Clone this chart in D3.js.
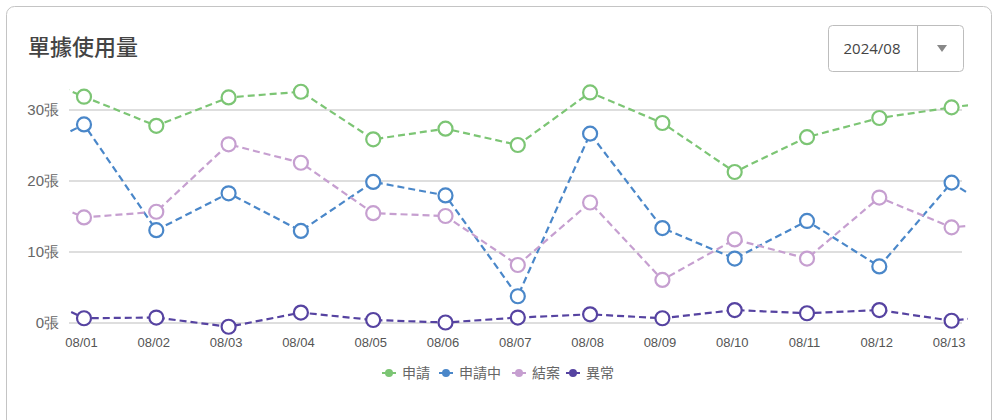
<!DOCTYPE html>
<html>
<head>
<meta charset="utf-8">
<script src="https://cdn.jsdelivr.net/npm/d3@7"></script>
<style>
  body { margin: 0; background: #fff; font-family: "Noto Sans CJK TC", "Noto Sans", sans-serif; }
</style>
</head>
<body>
<script>
// dates (first and last are off-screen neighbours, only used so the dashed lines run off the edges)
var dates = ["07/31", "08/01", "08/02", "08/03", "08/04", "08/05", "08/06", "08/07", "08/08", "08/09", "08/10", "08/11", "08/12", "08/13", "08/14"];
var shownDates = dates.slice(1, 14);

var appliedVals  = [36.0, 31.8, 27.7, 31.7, 32.5, 25.8, 27.3, 25.0, 32.4, 28.1, 21.2, 26.1, 28.8, 30.3, 31.6];
var pendingVals  = [22.7, 27.9, 13.0, 18.2, 12.9, 19.8, 17.9, 3.7, 26.6, 13.3, 9.0, 14.3, 7.9, 19.7, 13.1];
var closedVals   = [19.1, 14.8, 15.6, 25.1, 22.5, 15.4, 15.0, 8.1, 16.9, 6.0, 11.7, 9.0, 17.6, 13.4, 14.3];
var abnormalVals = [5.5, 0.6, 0.7, -0.6, 1.4, 0.35, 0.0, 0.7, 1.15, 0.6, 1.75, 1.3, 1.75, 0.25, 1.35];

var seriesNames = ["申請", "申請中", "結案", "異常"];
var colors = ["#7cc574", "#4a87c9", "#c69fd0", "#5643a1"];
var yTicks = [0, 10, 20, 30];

var seriesList = [appliedVals, pendingVals, closedVals, abnormalVals];

var width = 994, height = 420;
var numFont = "'Liberation Sans', Arial, sans-serif";

var svg = d3.select("body").append("svg")
    .attr("width", width)
    .attr("height", height);

// card
svg.append("rect")
    .attr("x", 6.5).attr("y", 6.5)
    .attr("width", 985).attr("height", 440)
    .attr("rx", 8)
    .attr("fill", "#fff")
    .attr("stroke", "#c4c4c4");

svg.append("text")
    .attr("x", 28).attr("y", 55)
    .attr("font-size", 22)
    .attr("font-weight", 500)
    .attr("fill", "#444")
    .text("單據使用量");

// month select box
var sel = svg.append("g");
sel.append("rect")
    .attr("x", 828.5).attr("y", 25.5)
    .attr("width", 135).attr("height", 46)
    .attr("rx", 4)
    .attr("fill", "#fff")
    .attr("stroke", "#bdbdbd");
sel.append("line")
    .attr("x1", 917.5).attr("x2", 917.5)
    .attr("y1", 26).attr("y2", 71)
    .attr("stroke", "#bdbdbd");
sel.append("text")
    .attr("x", 872).attr("y", 54)
    .attr("text-anchor", "middle")
    .attr("font-size", 15)
    .attr("fill", "#444")
    .attr("font-family", "'Open Sans', sans-serif")
    .text("2024/08");
sel.append("path")
    .attr("d", "M937,45 L947,45 L942,52 Z")
    .attr("fill", "#888");

// scales
var x = d3.scalePoint().domain(dates).range([84 - 72.3, 951.6 + 72.3]);
var y = d3.scaleLinear().domain([0, 30]).range([322.5, 109.5]);

// grid + y labels
var gridG = svg.append("g")
    .attr("transform", "translate(69,0)")
    .call(d3.axisLeft(y).tickValues(yTicks).tickSize(-(962 - 69)).tickFormat(function(d){ return d + "張"; }));
gridG.select(".domain").remove();
gridG.selectAll(".tick line").attr("stroke", "#d3d3d3").attr("stroke-width", 1.5);
gridG.selectAll(".tick text")
    .attr("x", -10)
    .attr("font-size", 15)
    .attr("fill", "#666")
    .attr("font-family", numFont);

// x axis labels (sit a few px left of the points, as in the original)
var xAxis = svg.append("g")
    .attr("transform", "translate(-3,332)")
    .call(d3.axisBottom(x).tickValues(shownDates).tickSize(0));
xAxis.select(".domain").remove();
xAxis.selectAll(".tick text")
    .attr("dy", "0.9em")
    .attr("font-size", 13)
    .attr("fill", "#555")
    .attr("font-family", numFont);

// clip so lines just run a bit past the first / last point
svg.append("clipPath").attr("id", "plotclip")
  .append("rect").attr("x", 69).attr("y", 60).attr("width", 968 - 69).attr("height", 300);

var line = d3.line()
    .x(function(d, i){ return x(dates[i]); })
    .y(function(d){ return y(d); });

var plot = svg.append("g");

seriesList.forEach(function(s, k){
  plot.append("path")
    .attr("clip-path", "url(#plotclip)")
    .attr("d", line(s))
    .attr("fill", "none")
    .attr("stroke", colors[k])
    .attr("stroke-width", 2.2)
    .attr("stroke-dasharray", "7,4");
});

seriesList.forEach(function(s, k){
  plot.selectAll(".pt" + k)
    .data(s.slice(1, 14))
    .enter().append("circle")
    .attr("class", "pt" + k)
    .attr("cx", function(d, i){ return x(shownDates[i]); })
    .attr("cy", function(d){ return y(d); })
    .attr("r", 7)
    .attr("fill", "#fff")
    .attr("stroke", colors[k])
    .attr("stroke-width", 2.2);
});

// legend
var legendX = [382, 439, 512, 566];
var legend = svg.append("g");
seriesNames.forEach(function(name, k){
  var g = legend.append("g").attr("transform", "translate(" + legendX[k] + ",373)");
  g.append("line").attr("x1", 0).attr("x2", 14).attr("stroke", colors[k]).attr("stroke-width", 2);
  g.append("circle").attr("cx", 7).attr("r", 4).attr("fill", colors[k]);
  g.append("text")
    .attr("x", 20).attr("y", 5)
    .attr("font-size", 14)
    .attr("fill", "#666")
    .text(name);
});
</script>
</body>
</html>
